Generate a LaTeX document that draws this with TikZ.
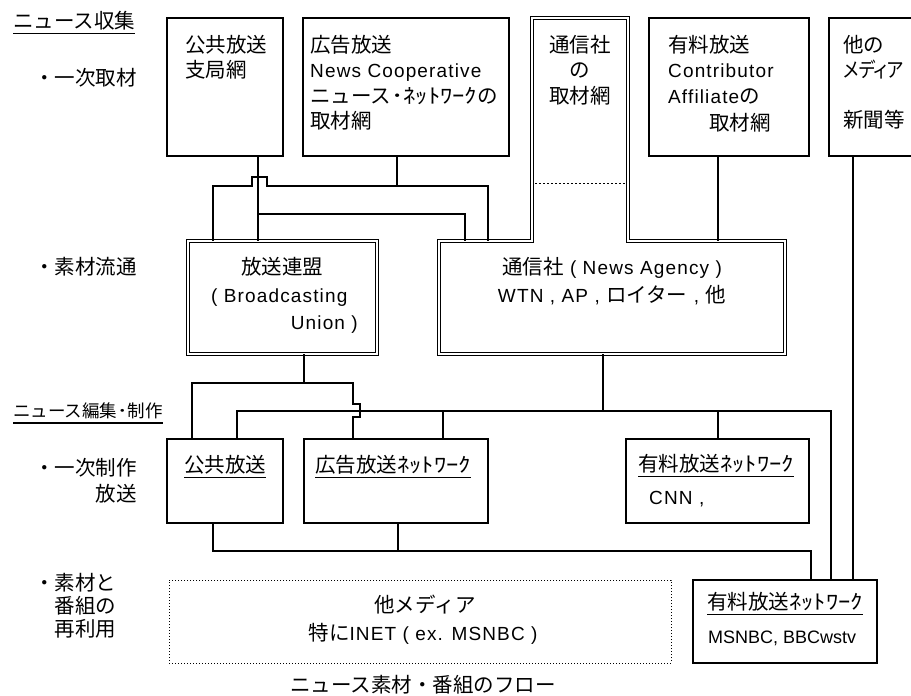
\documentclass[tikz,border=0pt]{standalone}
\usepackage{fontspec}
\setmainfont{Noto Sans CJK JP}
\newfontfamily\jpprop[RawFeature=+palt]{Noto Sans CJK JP}
\newfontfamily\latf[LetterSpace=6]{Liberation Sans}
\newfontfamily\latn{Liberation Sans}
\newcommand{\latx}[1]{{\latf\fontsize{19}{25.5}\selectfont #1}}
\newcommand{\halfw}[1]{\scalebox{1.2}[1]{#1}}
\tikzset{
  box/.style={draw, line width=1.3pt, anchor=north west, inner sep=0pt, outer sep=0pt},
  dbox/.style={draw, double, line width=0.9pt, double distance=2.2pt, anchor=north west, inner sep=0pt, outer sep=0pt},
  dline/.style={double, line width=0.9pt, double distance=2.2pt, line join=miter},
  dotbox/.style={draw, dotted, line width=1pt, anchor=north west, inner sep=0pt, outer sep=0pt},
  conn/.style={line width=2pt, line join=miter},
  uline/.style={line width=1.2pt},
  txt/.style={inner sep=0pt, font=\fontsize{20.5}{25.5}\selectfont},
  ctr/.style={txt, text height=17pt, text depth=1.5pt},
  lbl/.style={ctr, anchor=west}
}
\begin{document}
\begin{tikzpicture}[x=1pt,y=-1pt]
\useasboundingbox (0,0) rectangle (911,696);
\fill[white] (0,0) rectangle (911,696);

% ---------- boxes ----------
\node[box, minimum width=116pt, minimum height=138pt] (A) at (167,18) {};
\node[box, minimum width=206pt, minimum height=138pt] (B) at (303,18) {};
\node[anchor=north west, inner sep=0pt, outer sep=0pt, minimum width=96pt, minimum height=223pt] (C) at (532,18) {};
\node[anchor=north west, inner sep=0pt, outer sep=0pt, minimum width=346pt, minimum height=113pt] (D) at (439,241) {};
\draw[dline] (C.north west) -- (C.north east) -- (C.south east) -- (D.north east) -- (D.south east) -- (D.south west) -- (D.north west) -- (C.south west) -- cycle;
\draw[line width=1pt, dash pattern=on 2pt off 2pt] (535,183) -- (625,183);
\node[box, minimum width=160pt, minimum height=138pt] (E) at (649,18) {};
\node[box, minimum width=110pt, minimum height=138pt] (F) at (829,18) {};
\node[dbox, minimum width=189pt, minimum height=113pt] (G) at (188,241) {};
\node[box, minimum width=116pt, minimum height=84pt] (H) at (167,439) {};
\node[box, minimum width=184pt, minimum height=84pt] (I) at (304,439) {};
\node[box, minimum width=183pt, minimum height=84pt] (J) at (626,439) {};
\node[box, minimum width=184pt, minimum height=83pt] (K) at (693,580) {};
\node[dotbox, minimum width=502pt, minimum height=83pt] (M) at (169,580) {};

% ---------- x positions of connectors ----------
\coordinate (vA) at (258,0);
\coordinate (vB) at (397,0);
\coordinate (vL1) at (213,0);
\coordinate (vR1) at (488,0);
\coordinate (vR2) at (465,0);
\coordinate (vE) at (718,0);
\coordinate (vF) at (853,0);
\coordinate (vG) at (304,0);
\coordinate (vH1) at (192,0);
\coordinate (vI1) at (353,0);
\coordinate (vD) at (603,0);
\coordinate (vH2) at (237,0);
\coordinate (vI2) at (443,0);
\coordinate (vK1) at (831,0);
\coordinate (vH3) at (213,0);
\coordinate (vI3) at (398,0);
\coordinate (vK2) at (811,0);

% ---------- connectors ----------
\draw[conn] (A.south -| vA) -- (G.north -| vA);
\draw[conn] (B.south -| vB) -- (397,186);
\draw[conn] (G.north -| vL1) -- (213,186) -- (252,186) -- (252,177) -- (267,177) -- (267,186) -- (488,186) -- (D.north -| vR1);
\draw[conn] (258,214) -- (465,214) -- (D.north -| vR2);
\draw[conn] (E.south -| vE) -- (D.north -| vE);
\draw[conn] (F.south -| vF) -- (K.north -| vF);
\draw[conn] (G.south -| vG) -- (304,383) -- (192,383) -- (H.north -| vH1);
\draw[conn] (304,383) -- (353,383) -- (353,404) -- (360,404) -- (360,417) -- (353,417) -- (I.north -| vI1);
\draw[conn] (D.south -| vD) -- (603,411);
\draw[conn] (H.north -| vH2) -- (237,411) -- (831,411) -- (K.north -| vK1);
\draw[conn] (443,411) -- (I.north -| vI2);
\draw[conn] (718,411) -- (J.north -| vE);
\draw[conn] (H.south -| vH3) -- (213,551) -- (811,551) -- (K.north -| vK2);
\draw[conn] (I.south -| vI3) -- (398,551);

% ---------- box texts ----------
\node[txt, align=left, anchor=north west] (tA) at (185,35) {公共放送\\支局網};
\node[txt, align=left, anchor=north west] (tB) at (310,35) {広告放送\\\latx{News Cooperative}\\ニュース\halfw{･ﾈｯﾄﾜｰｸ}の\\取材網};
\node[txt, align=center, anchor=north] (tC) at (580,35) {通信社\\の\\取材網};
\node[txt, align=left, anchor=north west] (tE) at (668,35) {有料放送\\\latx{Contributor}\\\latx{Affiliate}の\\[2pt]\hspace*{41pt}取材網};
\node[txt, align=left, anchor=north west] (tF) at (843,35) {他の\\\scalebox{0.86}[1]{\jpprop メディア}\\[24pt]新聞等};

\node[ctr] (tG1) at (282,267) {放送連盟};
\node[ctr, anchor=west] (tG2) at (211,295) {\latx{( Broadcasting}};
\node[ctr, anchor=east] (tG3) at (358,322) {\latx{Union )}};

\node[ctr] (tD1) at (612,267) {通信社\latx{\ ( News Agency )}};
\node[ctr] (tD2) at (612,295) {\latx{WTN , AP , }ロイター\latx{ , }他};

\node[lbl] (tH) at (184,465) {公共放送};
\draw[uline] ([yshift=-3pt]tH.south west) -- ([yshift=-3pt]tH.south east);
\node[lbl] (tI) at (315,465) {広告放送\halfw{ﾈｯﾄﾜｰｸ}};
\draw[uline] ([yshift=-3pt]tI.south west) -- ([yshift=-3pt]tI.south east);
\node[lbl] (tJ) at (638,464) {有料放送\halfw{ﾈｯﾄﾜｰｸ}};
\draw[uline] ([yshift=-3pt]tJ.south west) -- ([yshift=-3pt]tJ.south east);
\node[lbl] (tJ2) at (649,497) {\latx{CNN ,}};
\node[lbl] (tK) at (707,602) {有料放送\halfw{ﾈｯﾄﾜｰｸ}};
\draw[uline] ([yshift=-3pt]tK.south west) -- ([yshift=-3pt]tK.south east);
\node[lbl] (tK2) at (708,636) {{\latn\fontsize{18}{20}\selectfont MSNBC, BBCwstv}};

\node[ctr] (tM1) at (425,605) {他メディア};
\node[ctr] (tM2) at (423,633) {特に\latx{INET ( ex. MSNBC )}};

% ---------- left labels ----------
\node[lbl] (L1) at (13,21) {ニュース収集};
\draw[uline] ([yshift=-3pt]L1.south west) -- ([yshift=-3pt]L1.south east);
\node[lbl] (L1a) at (34,78) {・一次取材};
\node[lbl] (L1b) at (34,267) {・素材流通};
\node[lbl, font=\fontsize{17.5}{20}\selectfont] (L2) at (13,410) {ニュース編集\halfw{･}制作};
\draw[uline] ([yshift=-3.5pt]L2.south west) -- ([yshift=-3.5pt]L2.south east);
\node[lbl] (L2a) at (34,468) {・一次制作};
\node[lbl, anchor=east] (L2b) at (137,494) {放送};
\node[txt, font=\fontsize{20.5}{23}\selectfont, align=left, anchor=north west] (L3) at (34,573) {・素材と\\\hspace*{20.5pt}番組の\\\hspace*{20.5pt}再利用};

% ---------- title ----------
\node[ctr] (T) at (423,685) {ニュース素材・番組のフロー};
\end{tikzpicture}
\end{document}
